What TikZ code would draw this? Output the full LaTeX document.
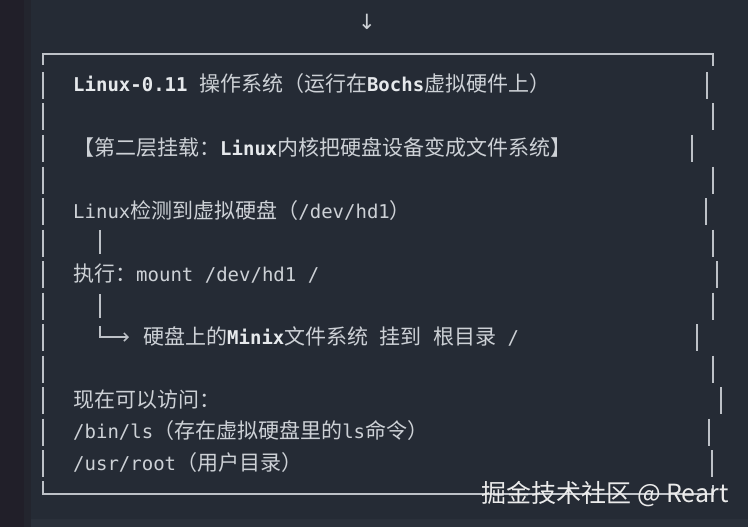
\documentclass[tikz,border=0pt]{standalone}
\usepackage{fontspec}
\setmainfont{Noto Sans CJK SC}
\newfontfamily\mono{DejaVu Sans Mono}
\newfontfamily\arrowfont{DejaVu Sans}
\usetikzlibrary{arrows.meta}
\definecolor{bgmain}{HTML}{252B35}
\definecolor{bgside}{HTML}{211F29}
\definecolor{bgmid}{HTML}{23252E}
\definecolor{bgbot}{HTML}{2A303A}
\definecolor{txtc}{HTML}{CDD1D6}
\definecolor{boldc}{HTML}{E6E9EC}
\definecolor{linec}{HTML}{BDC1C7}
\newcommand{\tm}[1]{{\mono\fontsize{19}{20}\selectfont #1}}
\newcommand{\tb}[1]{{\mono\bfseries\color{boldc}\fontsize{19}{20}\selectfont #1}}
\tikzset{
    line/.style={draw=linec, line width=1.5pt},
    txt/.style={anchor=base west, inner sep=0pt, text=txtc, font=\fontsize{21}{22}\selectfont},
    wm/.style={inner sep=0pt, text=white!92!black, font=\fontsize{25}{26}\selectfont}
}

\begin{document}
\begin{tikzpicture}[x=1pt, y=-1pt]

    % Background
    \useasboundingbox (0,0) rectangle (748,527);
    \fill[bgmain] (0,0) rectangle (748,527);
    \fill[bgside] (0,0) rectangle (24,527);
    \fill[bgmid] (24,0) rectangle (31,527);
    \fill[bgbot] (31,519) rectangle (748,527);

    % Nodes
    \node[text=txtc, font=\arrowfont\fontsize{21}{21}\selectfont] (down) at (367,22) {↓};
    \node[txt] (title) at (73,92) {\tb{Linux-0.11}\tm{~}操作系统（运行在\tb{Bochs}虚拟硬件上）};
    \node[txt] (layer) at (73,155) {【第二层挂载：\tb{Linux}内核把硬盘设备变成文件系统】};
    \node[txt] (detect) at (73,218) {\tm{Linux}检测到虚拟硬盘（\tm{/dev/hd1}）};
    \node[txt] (exec) at (73,281) {执行：\tm{mount /dev/hd1 /}};
    \node[txt] (mountfs) at (143,344) {硬盘上的\tb{Minix}文件系统\tm{~}挂到\tm{~}根目录\tm{~/}};
    \node[txt] (access) at (73,407) {现在可以访问：};
    \node[txt] (binls) at (73,438.5) {\tm{/bin/ls}（存在虚拟硬盘里的\tm{ls}命令）};
    \node[txt] (usrroot) at (73,470) {\tm{/usr/root}（用户目录）};

    % Box
    \draw[line] (43,65) |- (713,54) -- (713,66);
    \draw[line] (43,481) |- (713,494) -- (713,485);
    \foreach \k in {0,...,12}
        \draw[line] (43,{72+31.5*\k}) -- ++(0,27);
    \foreach \xr [count=\k from 0] in {707,713,692,713,706,713,717,713,697,713,721,709,712}
        \draw[line] (\xr,{72+31.5*\k}) -- ++(0,27);

    % Edges with arrows
    \coordinate (d1) at (100,230);
    \coordinate (d2) at (100,254);
    \coordinate (e1) at (100,294);
    \coordinate (e2) at (100,318);
    \coordinate (f1) at (100,326);
    \coordinate (f2) at (129,337);
    \draw[line] (d1) -- (d2);
    \draw[line] (e1) -- (e2);
    \draw[line, -{Straight Barb[length=4pt]}] (f1) |- (f2);

    \node[wm] (juejin) at (605,494) {掘金技术社区 @ Reart};

\end{tikzpicture}
\end{document}
